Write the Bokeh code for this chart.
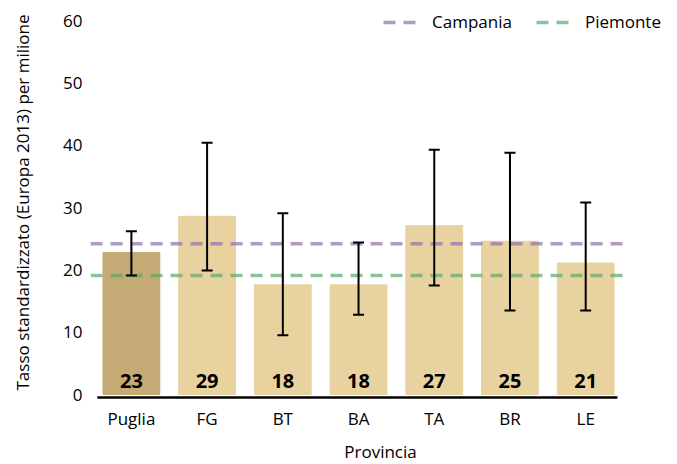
from bokeh.plotting import figure
from bokeh.models import (ColumnDataSource, Whisker, TeeHead, Range1d, FixedTicker,
                          Legend, LegendItem)
from bokeh.core.properties import value
from bokeh.embed import file_html
from bokeh.resources import INLINE

# ---- data ----
categories = ["Puglia", "FG", "BT", "BA", "TA", "BR", "LE"]
rates = [22.8, 28.6, 17.6, 17.6, 27.1, 24.6, 21.1]
ci_lower = [19.1, 19.9, 9.5, 12.8, 17.5, 13.5, 13.5]
ci_upper = [26.2, 40.4, 29.1, 24.4, 39.3, 38.8, 30.8]
ref_names = ["Campania", "Piemonte"]
ref_values = [24.2, 19.1]
y_ticks = [0, 10, 20, 30, 40, 50, 60]

FONT = "Open Sans"
HIGHLIGHT = "#C4AA74"
BASE = "#E8D29F"
REF_COLORS = ["#8E6FAE", "#5DAA6E"]

x = list(range(len(categories)))
colors = [HIGHLIGHT if i == 0 else BASE for i in x]
labels = [f"{v:.0f}" for v in rates]

src = ColumnDataSource(dict(x=x, top=rates, lower=ci_lower, upper=ci_upper,
                            color=colors, label=labels))

# frame is widened/raised beyond the data area so the legend fits inside it
line_start, line_end = -0.54, len(categories) - 0.47
p = figure(frame_width=580, frame_height=394, output_backend="svg",
           toolbar_location=None,
           x_range=Range1d(line_start, 7.12), y_range=Range1d(-0.8, 62.44),
           min_border_left=90, min_border_right=7, min_border_top=5,
           min_border_bottom=0)
p.outline_line_color = None
p.grid.grid_line_color = None

p.vbar(x="x", top="top", bottom=0, width=0.75, color="color", source=src)

p.text(x="x", y=0, text="label", source=src, text_align="center",
       text_baseline="middle", y_offset=-14, text_font=value(FONT),
       text_font_style="bold", text_font_size="20px", text_color="black")

items = []
for name, val, col in zip(ref_names, ref_values, REF_COLORS):
    r = p.segment(x0=line_start, x1=line_end, y0=val, y1=val, line_color=col,
                  line_alpha=0.7, line_width=3.5, line_dash="12 8")
    items.append(LegendItem(label=name, renderers=[r]))

w = Whisker(base="x", lower="lower", upper="upper", source=src,
            line_color="black", line_width=2, level="annotation",
            upper_head=TeeHead(size=11, line_color="black", line_width=2),
            lower_head=TeeHead(size=11, line_color="black", line_width=2))
p.add_layout(w)

# baseline axis line
p.segment(x0=-0.45, x1=len(categories) - 0.58, y0=-0.48, y1=-0.48,
          line_color="black", line_width=2.5)

legend = Legend(items=items, orientation="horizontal", location=(293, 366),
                glyph_width=37, glyph_height=20, label_standoff=12, spacing=24,
                padding=0, margin=0, border_line_color=None,
                background_fill_alpha=0, label_text_font=FONT,
                label_text_font_size="17px", label_text_color="black")
p.add_layout(legend, "center")

p.xaxis.ticker = FixedTicker(ticks=x)
p.xaxis.major_label_overrides = {i: c for i, c in zip(x, categories)}
p.xaxis.major_label_standoff = 7
p.xaxis.axis_label = "Provincia"
p.xaxis.axis_label_standoff = 7

p.yaxis.ticker = FixedTicker(ticks=y_ticks)
p.yaxis.major_label_standoff = 8
p.yaxis.axis_label = "Tasso standardizzato (Europa 2013) per milione"
p.yaxis.axis_label_standoff = 26

for ax in (p.xaxis[0], p.yaxis[0]):
    ax.axis_line_color = None
    ax.major_tick_line_color = None
    ax.minor_tick_line_color = None
    ax.major_tick_out = 0
    ax.major_tick_in = 0
    ax.minor_tick_out = 0
    ax.major_label_text_font = FONT
    ax.major_label_text_font_size = "17px"
    ax.major_label_text_color = "black"
    ax.axis_label_text_font = FONT
    ax.axis_label_text_font_size = "17px"
    ax.axis_label_text_font_style = "normal"
    ax.axis_label_text_color = "black"

open("out.html", "w").write(file_html(p, INLINE))
